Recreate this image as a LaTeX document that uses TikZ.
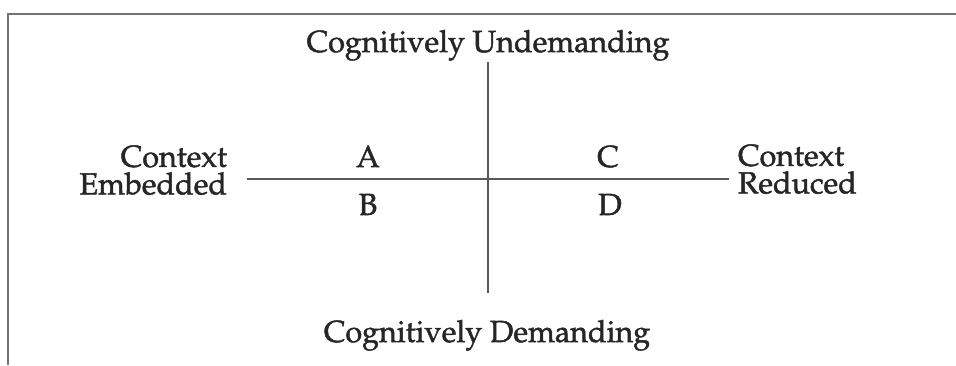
\documentclass[tikz,border=0pt]{standalone}
\usepackage[T1]{fontenc}
\usepackage{mathpazo}
\newcommand{\heavytext}[1]{\special{pdf:literal direct 2 Tr 0.45 w}#1\special{pdf:literal direct 0 Tr}}
\begin{document}
\begin{tikzpicture}[x=1pt,y=-1pt,
  lbl/.style={inner sep=0pt,outer sep=0pt,anchor=base,text=black!85,font=\fontsize{30.5}{27.5}\selectfont},
  axis/.style={draw=black!65,line width=1.2pt},
  frame/.style={draw=black!55,line width=1.5pt}]
\useasboundingbox (0,0) rectangle (956,365);
% frame of the scanned box
\coordinate (fTR) at (956,14);
\coordinate (fTL) at (8,14);
\coordinate (fBL) at (8,365);
\draw[frame] (fTR) -- (fTL) -- (fBL);
% axes
\coordinate (vT) at (488,62);
\coordinate (vB) at (488,293);
\coordinate (hL) at (247,179);
\coordinate (hR) at (729,179);
\draw[axis] (vT) -- (vB);
\draw[axis] (hL) -- (hR);
% labels
\node[lbl] (top) at (488,52) {\heavytext{Cognitively Undemanding}};
\node[lbl] (bot) at (487,342) {\heavytext{Cognitively Demanding}};
\node[lbl,align=right,anchor=south east] (ce) at (227,195) {\heavytext{Context}\\\heavytext{Embedded}};
\node[lbl,align=left,anchor=south west] (cr) at (738,194) {\heavytext{Context}\\\heavytext{Reduced}};
\node[lbl] (qA) at (368,167) {\heavytext{A}};
\node[lbl] (qC) at (608,167) {\heavytext{C}};
\node[lbl] (qB) at (368,215) {\heavytext{B}};
\node[lbl] (qD) at (610,215) {\heavytext{D}};
\end{tikzpicture}
\end{document}
